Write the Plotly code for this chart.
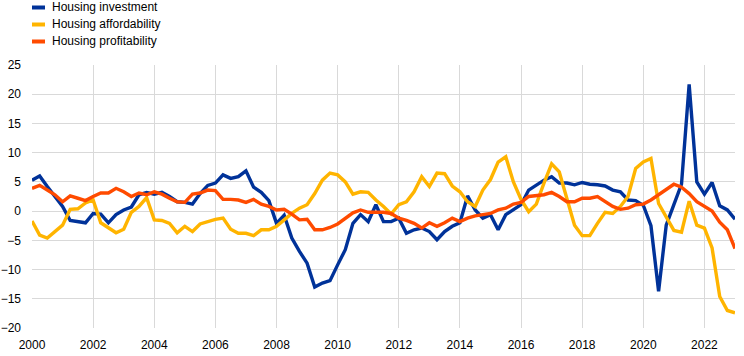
import plotly.graph_objects as go

# Quarterly observations, 2000 to 2023 (93 points)
start_year = 2000
n_points = 93
x_vals = [start_year + 0.25 * i for i in range(n_points)]

series_names = ["Housing investment", "Housing affordability", "Housing profitability"]
series_colors = ["#003299", "#FFB400", "#FF4B00"]

housing_investment = [
    5.3, 6.0, 4.2, 2.5, 0.8, -1.6, -1.8, -2.0, -0.4, -0.5,
    -2.0, -0.6, 0.2, 0.7, 2.8, 3.2, 2.9, 3.2, 2.5, 1.6,
    1.5, 1.2, 3.0, 4.4, 4.8, 6.2, 5.6, 5.9, 6.9, 4.1,
    3.2, 1.8, -2.1, -0.7, -4.6, -6.9, -8.9, -13.0, -12.3, -11.9,
    -9.2, -6.6, -2.1, -0.6, -1.8, 1.1, -1.8, -1.8, -1.2, -3.8,
    -3.2, -2.9, -3.5, -4.9, -3.5, -2.6, -2.0, 2.6, 0.2, -1.2,
    -0.6, -3.2, -0.6, 0.2, 1.1, 3.6, 4.5, 5.3, 5.9, 4.8,
    4.8, 4.5, 4.9, 4.6, 4.5, 4.3, 3.6, 3.3, 1.9, 1.8,
    1.0, -2.5, -13.7, -2.4, 1.1, 4.6, 21.7, 5.0, 2.9, 4.9,
    0.9, 0.2, -1.4,
]

housing_affordability = [
    -1.7, -4.1, -4.6, -3.5, -2.4, 0.3, 0.4, 1.4, 1.9, -2.0,
    -2.9, -3.7, -3.1, -0.2, 0.8, 2.3, -1.5, -1.6, -2.1, -3.7,
    -2.6, -3.5, -2.2, -1.8, -1.4, -1.2, -3.1, -3.8, -3.8, -4.2,
    -3.2, -3.2, -2.6, -1.5, -0.4, 0.5, 1.1, 3.0, 5.3, 6.5,
    6.2, 5.0, 2.9, 3.3, 3.2, 1.9, 0.8, -0.5, 1.1, 1.6,
    3.3, 5.9, 4.2, 6.5, 6.4, 4.3, 3.3, 1.6, 0.8, 3.6,
    5.4, 8.4, 9.3, 5.0, 2.0, -0.1, 1.2, 4.8, 8.1, 6.7,
    2.2, -2.4, -4.2, -4.2, -2.1, -0.2, -0.4, 0.8, 2.5, 7.3,
    8.4, 9.0, 1.3, -0.9, -3.3, -3.6, 1.7, -2.4, -2.9, -6.3,
    -14.6, -17.0, -17.4,
]

housing_profitability = [
    3.9, 4.4, 3.6, 2.8, 1.6, 2.6, 2.2, 1.8, 2.5, 3.1,
    3.1, 3.9, 3.3, 2.5, 3.1, 2.8, 3.3, 2.9, 2.2, 1.6,
    1.5, 2.9, 3.1, 3.6, 3.5, 2.0, 2.0, 1.9, 1.5, 2.0,
    1.2, 0.8, 0.2, 0.3, -0.5, -1.5, -1.4, -3.2, -3.2, -2.8,
    -2.2, -1.2, -0.3, 0.2, -0.2, -0.2, -0.2, -0.4, -1.2, -1.6,
    -2.1, -2.9, -2.0, -2.6, -2.0, -1.2, -1.8, -1.2, -0.8, -0.6,
    -0.4, 0.2, 0.5, 1.2, 1.5, 2.5, 2.6, 2.8, 3.2, 2.5,
    1.6, 1.6, 2.2, 2.2, 2.5, 1.6, 0.8, 0.3, 0.5, 1.1,
    1.2, 1.9, 2.8, 3.7, 4.6, 4.1, 3.0, 1.6, 0.8, 0.0,
    -1.9, -3.2, -6.4,
]

x_ticks = list(range(2000, 2023, 2))
y_ticks = list(range(-20, 26, 5))

all_series = [housing_investment, housing_affordability, housing_profitability]

fig = go.Figure()
for name, color, vals in zip(series_names, series_colors, all_series):
    fig.add_trace(go.Scatter(
        x=x_vals, y=vals, mode="lines", name=name,
        line=dict(color=color, width=3.4),
        showlegend=False, hoverinfo="skip",
    ))

# Manual legend (compact line keys like the reference)
W, H = 744, 356
ml, mr, mt, mb = 32, 9, 65, 28
pw, ph = W - ml - mr, H - mt - mb
legend_rows_px = [7.5, 24.5, 41.5]
for name, color, ypx in zip(series_names, series_colors, legend_rows_px):
    yp = 1 + (mt - ypx) / ph
    fig.add_shape(type="line", xref="paper", yref="paper",
                  x0=0, x1=(45 - ml) / pw, y0=yp, y1=yp,
                  line=dict(color=color, width=4))
    fig.add_annotation(xref="paper", yref="paper", x=(50 - ml) / pw, y=yp,
                       text=name, showarrow=False, xanchor="left", yanchor="middle",
                       font=dict(family="Liberation Sans, Arial, sans-serif", size=12, color="#000000"))

fig.update_layout(
    width=W, height=H,
    margin=dict(l=ml, r=mr, t=mt, b=mb),
    plot_bgcolor="white", paper_bgcolor="white",
    font=dict(family="Liberation Sans, Arial, sans-serif", size=12, color="#000000"),
    xaxis=dict(range=[2000, 2023], tickvals=x_ticks, ticktext=[str(t) for t in x_ticks],
               showgrid=True, gridcolor="#d9d9d9", gridwidth=1, zeroline=False,
               showline=False, ticks="", tickfont=dict(size=12), ticklabelstandoff=8,
               automargin=False),
    yaxis=dict(range=[-20, 25], tickvals=y_ticks, showgrid=True, gridcolor="#d9d9d9",
               gridwidth=1, zeroline=False, showline=False, ticks="", tickfont=dict(size=12),
               ticklabelstandoff=10, automargin=False),
)

fig.write_html("out.html", config={"displayModeBar": False, "staticPlot": True},
               post_script="document.body.style.margin='0px';document.body.style.overflow='hidden';")
